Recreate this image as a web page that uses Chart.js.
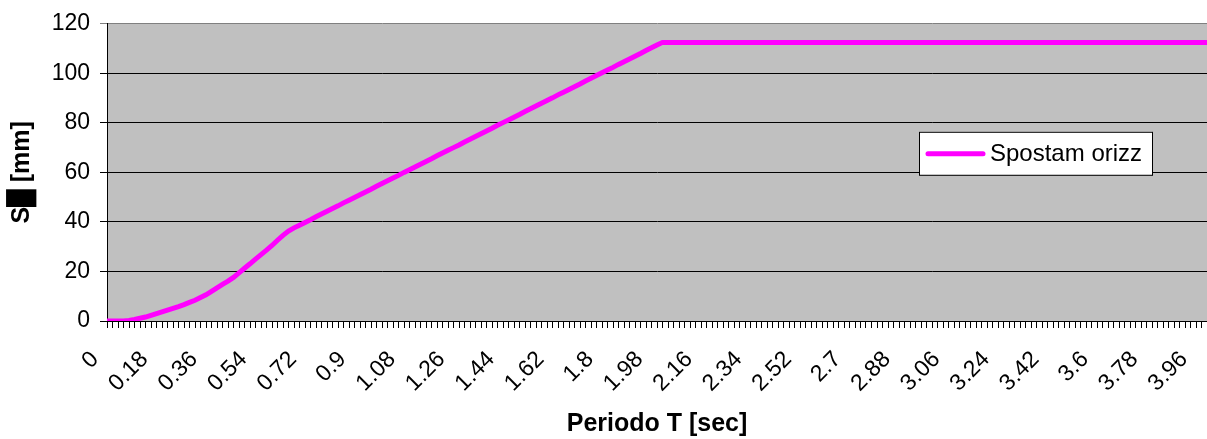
<!DOCTYPE html>
<html>
<head>
<meta charset="utf-8">
<script src="https://cdn.jsdelivr.net/npm/chart.js@4"></script>
<style>
  html, body { margin: 0; padding: 0; background: #fff; }
  canvas { display: block; }
</style>
</head>
<body>
<canvas id="grafSpostamento" width="1207" height="439"></canvas>
<script>
// Periodo T [sec] (one sample every 0.02 s)
const tempi = [
  0, 0.02, 0.04, 0.06, 0.08, 0.1, 0.12, 0.14, 0.16, 0.18, 0.2, 0.22, 0.24, 0.26, 0.28, 0.3, 0.32, 0.34, 0.36, 0.38,
  0.4, 0.42, 0.44, 0.46, 0.48, 0.5, 0.52, 0.54, 0.56, 0.58, 0.6, 0.62, 0.64, 0.66, 0.68, 0.7, 0.72, 0.74, 0.76, 0.78,
  0.8, 0.82, 0.84, 0.86, 0.88, 0.9, 0.92, 0.94, 0.96, 0.98, 1, 1.02, 1.04, 1.06, 1.08, 1.1, 1.12, 1.14, 1.16, 1.18,
  1.2, 1.22, 1.24, 1.26, 1.28, 1.3, 1.32, 1.34, 1.36, 1.38, 1.4, 1.42, 1.44, 1.46, 1.48, 1.5, 1.52, 1.54, 1.56, 1.58,
  1.6, 1.62, 1.64, 1.66, 1.68, 1.7, 1.72, 1.74, 1.76, 1.78, 1.8, 1.82, 1.84, 1.86, 1.88, 1.9, 1.92, 1.94, 1.96, 1.98,
  2, 2.02, 2.04, 2.06, 2.08, 2.1, 2.12, 2.14, 2.16, 2.18, 2.2, 2.22, 2.24, 2.26, 2.28, 2.3, 2.32, 2.34, 2.36, 2.38,
  2.4, 2.42, 2.44, 2.46, 2.48, 2.5, 2.52, 2.54, 2.56, 2.58, 2.6, 2.62, 2.64, 2.66, 2.68, 2.7, 2.72, 2.74, 2.76, 2.78,
  2.8, 2.82, 2.84, 2.86, 2.88, 2.9, 2.92, 2.94, 2.96, 2.98, 3, 3.02, 3.04, 3.06, 3.08, 3.1, 3.12, 3.14, 3.16, 3.18,
  3.2, 3.22, 3.24, 3.26, 3.28, 3.3, 3.32, 3.34, 3.36, 3.38, 3.4, 3.42, 3.44, 3.46, 3.48, 3.5, 3.52, 3.54, 3.56, 3.58,
  3.6, 3.62, 3.64, 3.66, 3.68, 3.7, 3.72, 3.74, 3.76, 3.78, 3.8, 3.82, 3.84, 3.86, 3.88, 3.9, 3.92, 3.94, 3.96, 3.98,
  4
];

// Spostam orizz [mm]
const spostamOrizz = [
  0, 0, 0, 0, 0.2, 0.6, 1.1, 1.6, 2.3, 3.0, 3.7, 4.4, 5.1, 5.8, 6.6, 7.5, 8.4, 9.5, 10.6, 12.0,
  13.4, 14.8, 16.1, 17.6, 19.4, 21.3, 23.1, 25.0, 26.8, 28.6, 30.5, 32.6, 34.6, 36.3, 37.6, 38.7, 39.8, 40.9, 42.1, 43.2,
  44.3, 45.4, 46.5, 47.7, 48.8, 49.9, 51.0, 52.1, 53.2, 54.4, 55.5, 56.6, 57.7, 58.8, 60.0, 61.1, 62.2, 63.3, 64.4, 65.5,
  66.7, 67.8, 68.9, 70.0, 71.1, 72.3, 73.4, 74.5, 75.6, 76.7, 77.8, 79.0, 80.1, 81.2, 82.3, 83.4, 84.6, 85.7, 86.8, 87.9,
  89.0, 90.1, 91.3, 92.4, 93.5, 94.6, 95.7, 96.9, 98.0, 99.1, 100.2, 101.3, 102.4, 103.6, 104.7, 105.8, 106.9, 108.0, 109.2, 110.3,
  111.4, 112.5, 112.5, 112.5, 112.5, 112.5, 112.5, 112.5, 112.5, 112.5, 112.5, 112.5, 112.5, 112.5, 112.5, 112.5, 112.5, 112.5, 112.5, 112.5,
  112.5, 112.5, 112.5, 112.5, 112.5, 112.5, 112.5, 112.5, 112.5, 112.5, 112.5, 112.5, 112.5, 112.5, 112.5, 112.5, 112.5, 112.5, 112.5, 112.5,
  112.5, 112.5, 112.5, 112.5, 112.5, 112.5, 112.5, 112.5, 112.5, 112.5, 112.5, 112.5, 112.5, 112.5, 112.5, 112.5, 112.5, 112.5, 112.5, 112.5,
  112.5, 112.5, 112.5, 112.5, 112.5, 112.5, 112.5, 112.5, 112.5, 112.5, 112.5, 112.5, 112.5, 112.5, 112.5, 112.5, 112.5, 112.5, 112.5, 112.5,
  112.5, 112.5, 112.5, 112.5, 112.5, 112.5, 112.5, 112.5, 112.5, 112.5, 112.5, 112.5, 112.5, 112.5, 112.5, 112.5, 112.5, 112.5, 112.5, 112.5,
  112.5
];

// etichette visibili sull'asse X
const etichetteX = ['0', '0.18', '0.36', '0.54', '0.72', '0.9', '1.08', '1.26', '1.44', '1.62', '1.8',
  '1.98', '2.16', '2.34', '2.52', '2.7', '2.88', '3.06', '3.24', '3.42', '3.6', '3.78', '3.96'];

const FONT = "'Liberation Sans', Arial, sans-serif";

// sfondo grigio dell'area del grafico
const sfondoArea = {
  id: 'sfondoArea',
  beforeDraw(chart) {
    const { ctx, chartArea: a } = chart;
    ctx.save();
    ctx.fillStyle = '#C0C0C0';
    ctx.fillRect(a.left, a.top, a.right - a.left, a.bottom - a.top);
    ctx.restore();
  }
};

// legenda dentro l'area, come in Excel
const legendaInterna = {
  id: 'legendaInterna',
  afterDraw(chart) {
    const { ctx, chartArea: a } = chart;
    const ds = chart.data.datasets[0];
    const x = a.right - 288, y = a.top + 108, w = 233, h = 43;
    ctx.save();
    ctx.fillStyle = '#fff';
    ctx.fillRect(x, y, w, h);
    ctx.strokeStyle = '#000';
    ctx.lineWidth = 1;
    ctx.strokeRect(x + 0.5, y + 0.5, w, h);
    ctx.strokeStyle = ds.borderColor;
    ctx.lineWidth = 5;
    ctx.lineCap = 'round';
    ctx.beginPath();
    ctx.moveTo(x + 9, y + 22);
    ctx.lineTo(x + 64, y + 22);
    ctx.stroke();
    ctx.fillStyle = '#000';
    ctx.font = '24px ' + FONT;
    ctx.textBaseline = 'middle';
    ctx.fillText(ds.label, x + 71, y + 23);
    ctx.restore();
  }
};

new Chart(document.getElementById('grafSpostamento'), {
  type: 'line',
  data: {
    labels: tempi,
    datasets: [{
      label: 'Spostam orizz',
      data: spostamOrizz,
      borderColor: '#FF00FF',
      borderWidth: 5,
      pointRadius: 0,
      tension: 0,
      fill: false
    }]
  },
  options: {
    responsive: false,
    animation: false,
    layout: { padding: { top: 22, right: 0, left: 0, bottom: 0 } },
    plugins: { legend: { display: false }, tooltip: { enabled: false } },
    scales: {
      x: {
        offset: false,
        afterFit: s => { s.height = 118; s.paddingLeft = 0; s.paddingRight = 0; },
        grid: { drawOnChartArea: false, drawTicks: true, tickLength: 7, color: '#000' },
        border: { display: true, color: '#000', width: 1 },
        ticks: {
          autoSkip: false, minRotation: 45, maxRotation: 45, padding: 18, labelOffset: -12,
          color: '#000', font: { family: FONT, size: 23 },
          callback: function (value) {
            const lab = String(this.getLabelForValue(value));
            return etichetteX.includes(lab) ? lab : '';
          }
        },
        title: {
          display: true, text: 'Periodo T [sec]', color: '#000',
          font: { family: FONT, size: 25, weight: 'bold' }, padding: { bottom: 0 }
        }
      },
      y: {
        min: 0, max: 120,
        afterFit: s => { s.width = 107; },
        grid: {
          drawTicks: true, tickLength: 7,
          color: c => (c.tick && c.tick.value === 120 ? '#808080' : '#000')
        },
        border: { display: true, color: '#000', width: 1 },
        ticks: { stepSize: 20, padding: 10, color: '#000', font: { family: FONT, size: 23 } },
        title: {
          display: true, text: 'S█ [mm]', color: '#000',
          font: { family: FONT, size: 25, weight: 'bold' }, padding: { top: 7 }
        }
      }
    }
  },
  plugins: [sfondoArea, legendaInterna]
});
</script>
</body>
</html>
